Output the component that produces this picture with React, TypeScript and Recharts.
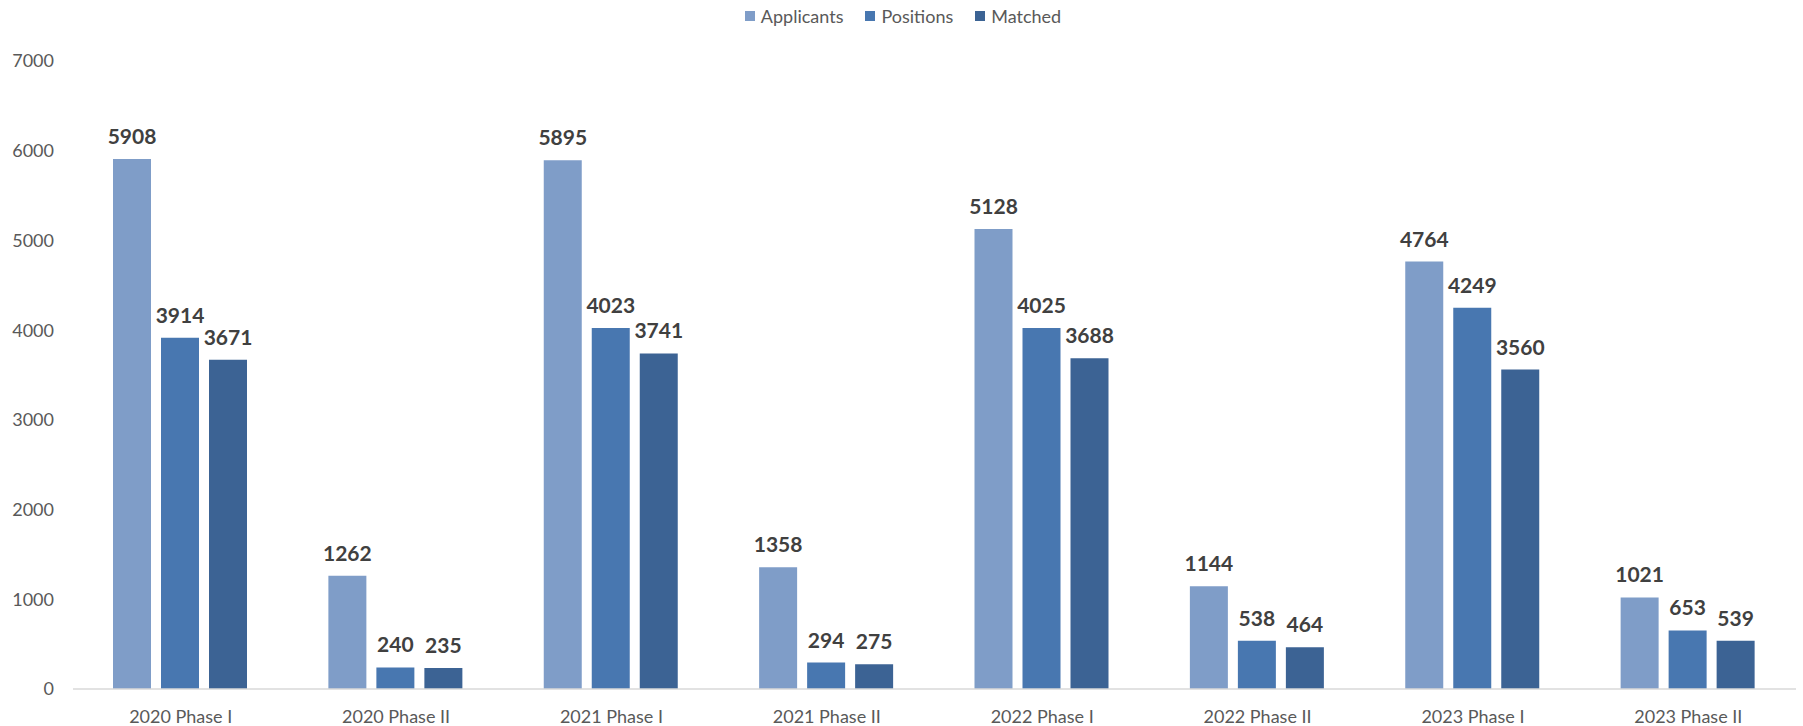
import { BarChart, Bar, XAxis, YAxis, Legend, LabelList } from "recharts";

const categories = [
  "2020 Phase I",
  "2020 Phase II",
  "2021 Phase I",
  "2021 Phase II",
  "2022 Phase I",
  "2022 Phase II",
  "2023 Phase I",
  "2023 Phase II",
];
const applicants = [5908, 1262, 5895, 1358, 5128, 1144, 4764, 1021];
const positions = [3914, 240, 4023, 294, 4025, 538, 4249, 653];
const matched = [3671, 235, 3741, 275, 3688, 464, 3560, 539];
const yTicks = [0, 1000, 2000, 3000, 4000, 5000, 6000, 7000];

const series = [
  { key: "Applicants", color: "#7F9DC8" },
  { key: "Positions", color: "#4877B0" },
  { key: "Matched", color: "#3C6394" },
];

const FONT = "Lato, 'Open Sans', sans-serif";
const TEXT = "#595959";

const data = categories.map((name, i) => ({
  name,
  Applicants: applicants[i],
  Positions: positions[i],
  Matched: matched[i],
}));

function LegendContent() {
  return (
    <div
      style={{
        display: "flex",
        justifyContent: "center",
        alignItems: "center",
        gap: 22,
        fontFamily: FONT,
        fontSize: 18,
        color: TEXT,
        paddingLeft: 10,
      }}
    >
      {series.map((s) => (
        <div key={s.key} style={{ display: "flex", alignItems: "center", gap: 6 }}>
          <span style={{ width: 10, height: 10, background: s.color, display: "inline-block" }} />
          <span>{s.key}</span>
        </div>
      ))}
    </div>
  );
}

export default function App() {
  return (
    <div style={{ position: "absolute", left: 0, top: 0, background: "#fff" }}>
      <BarChart
        width={1803}
        height={726}
        data={data}
        margin={{ top: 30, right: 7, bottom: 0, left: 0 }}
        barCategoryGap={40}
        barGap={10}
      >
        <Legend
          verticalAlign="top"
          align="center"
          height={31}
          content={<LegendContent />}
          wrapperStyle={{ top: 5 }}
        />
        <XAxis
          dataKey="name"
          height={37}
          axisLine={{ stroke: "#D9D9D9", strokeWidth: 1.5 }}
          tickLine={false}
          tickSize={0}
          tickMargin={21}
          tick={{ fill: TEXT, fontSize: 18, fontFamily: FONT }}
        />
        <YAxis
          width={73}
          domain={[0, 7000]}
          ticks={yTicks}
          axisLine={false}
          tickLine={false}
          tickSize={0}
          tickMargin={19}
          tick={{ fill: TEXT, fontSize: 18, fontFamily: FONT }}
        />
        {series.map((s) => (
          <Bar key={s.key} dataKey={s.key} fill={s.color} isAnimationActive={false}>
            <LabelList
              dataKey={s.key}
              position="top"
              offset={15}
              fill="#404040"
              fontSize={21}
              fontWeight="bold"
              fontFamily={FONT}
            />
          </Bar>
        ))}
      </BarChart>
    </div>
  );
}
